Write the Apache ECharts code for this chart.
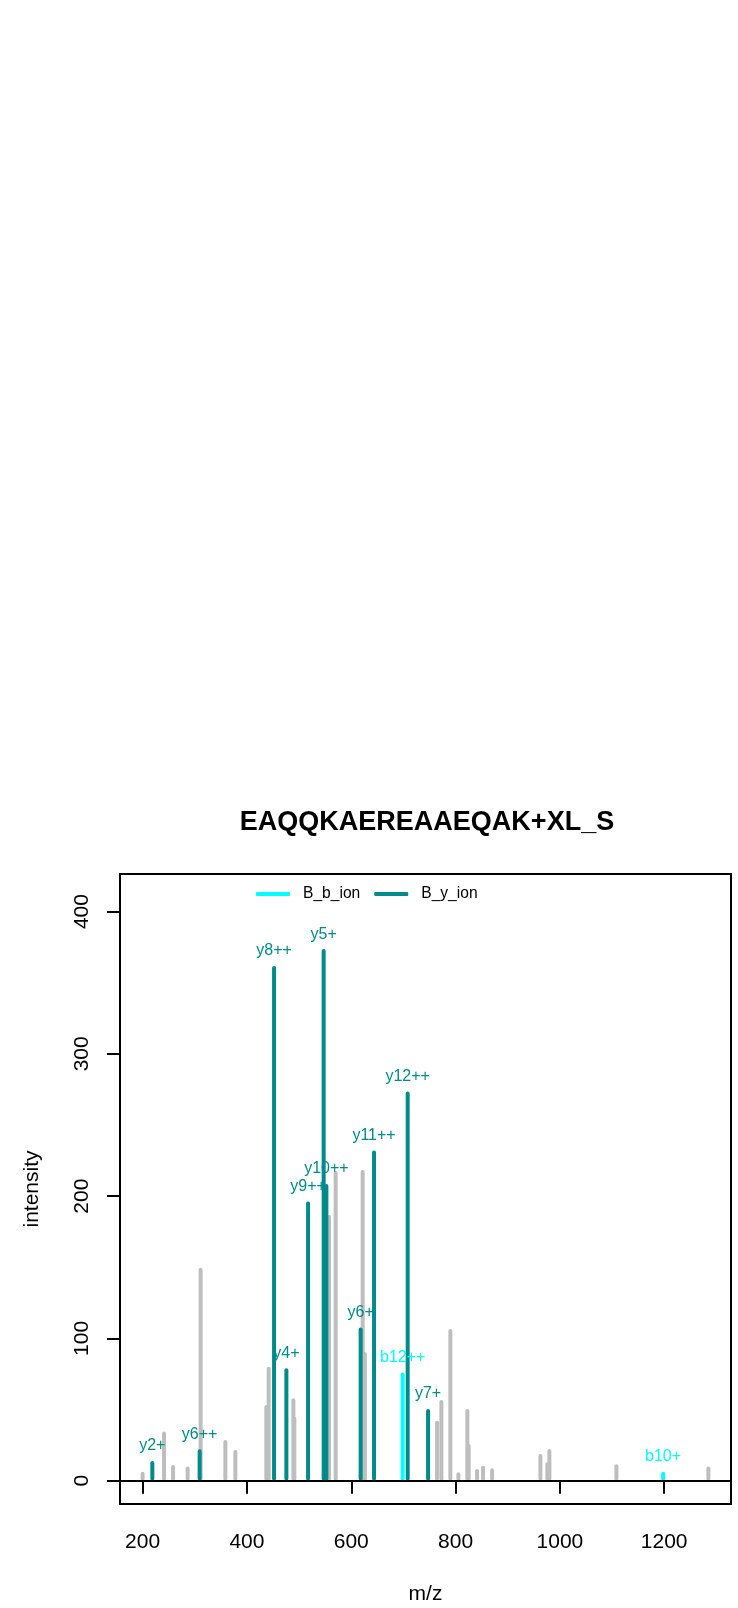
<!DOCTYPE html>
<html>
<head>
<meta charset="utf-8">
<script src="https://cdn.jsdelivr.net/npm/echarts@6.0.0/dist/echarts.min.js"></script>
<style>
  html, body { margin: 0; padding: 0; background: #fff; }
  #chart { width: 738px; height: 1608px; }
</style>
</head>
<body>
<div id="chart"></div>
<script>
// 未匹配的峰 (灰色)
var grayMz  = [200, 241, 258.3, 286.3, 311.2, 358.6, 377.8, 437.2, 441.6, 489, 490.9, 557.4, 570.1, 621.9, 626.1,
               764.5, 772.8, 790, 805.4, 822.6, 825.1, 841.2, 852.7, 870, 962.6, 976, 979.9, 1108.4, 1284.7];
var grayInt = [6.3, 34.5, 11, 9.9, 149.7, 28.6, 21.6, 53.2, 80, 57.9, 45, 186.8, 217.7, 218.4, 90.5,
               42.2, 56.7, 106.6, 5.9, 50.4, 26, 8.2, 10.5, 8.7, 18.8, 13, 22.3, 11.5, 10];

// b 离子
var bMz  = [698.6, 1197.9];
var bInt = [76, 6.3];
var bLab = ['b12++', 'b10+'];

// y 离子
var yMz  = [218.6, 309.3, 452, 475.6, 517.2, 547.1, 552.3, 618, 643.7, 708.2, 747.3];
var yInt = [13.8, 22, 361.8, 79, 196.2, 373.6, 208.6, 107.6, 232, 273.5, 50.4];
var yLab = ['y2+', 'y6++', 'y8++', 'y4+', 'y9++', 'y5+', 'y10++', 'y6+', 'y11++', 'y12++', 'y7+'];

var xTicks = [200, 400, 600, 800, 1000, 1200];
var yTicks = [0, 100, 200, 300, 400];

function toData(mz, val, lab) {
    return mz.map(function (m, i) {
        var item = { value: [m, val[i]] };
        if (lab) item.name = lab[i];
        return item;
    });
}

var dom = document.getElementById('chart');
var myChart = echarts.init(dom);

var barStyle = {
    type: 'bar',
    barWidth: 4,
    barGap: '-100%',
    animation: false
};

myChart.setOption({
    title: {
        text: 'EAQQKAEREAAEQAK+XL_S',
        left: 427,
        top: 809,
        padding: 0,
        textAlign: 'center',
        textStyle: {
            fontFamily: 'Liberation Sans',
            fontWeight: 'bold',
            fontSize: 27,
            color: '#000'
        }
    },
    legend: {
        data: ['B_b_ion', 'B_y_ion'],
        left: 256,
        top: 886,
        padding: 0,
        icon: 'roundRect',
        itemWidth: 34,
        itemHeight: 4,
        itemGap: 14,
        textStyle: {
            fontFamily: 'Liberation Sans',
            fontSize: 15.6,
            color: '#000',
            padding: [0, 0, 0, 8]
        }
    },
    grid: {
        left: 120,
        right: 7,
        top: 874,
        bottom: 104,
        show: true,
        borderColor: '#000',
        borderWidth: 2,
        containLabel: false
    },
    xAxis: {
        type: 'value',
        min: 156.6,
        max: 1328.1,
        name: 'm/z',
        nameLocation: 'middle',
        nameGap: 80,
        nameTextStyle: { fontFamily: 'Liberation Sans', fontSize: 21, color: '#000' },
        axisLine: { show: true, lineStyle: { color: '#000', width: 2 } },
        axisTick: { show: true, length: 13, customValues: xTicks, lineStyle: { color: '#000', width: 2 } },
        axisLabel: {
            customValues: xTicks,
            margin: 28,
            fontFamily: 'Liberation Sans',
            fontSize: 21,
            color: '#000',
            formatter: function (v) { return String(v); }
        },
        splitLine: { show: false }
    },
    yAxis: {
        type: 'value',
        min: -16.4,
        max: 426.4,
        name: 'intensity',
        nameLocation: 'middle',
        nameGap: 77,
        nameTextStyle: { fontFamily: 'Liberation Sans', fontSize: 21, color: '#000' },
        axisLine: { show: true, lineStyle: { color: '#000', width: 2 } },
        axisTick: { show: true, length: 13, customValues: yTicks, lineStyle: { color: '#000', width: 2 } },
        axisLabel: {
            customValues: yTicks,
            rotate: 90,
            margin: 27,
            fontFamily: 'Liberation Sans',
            fontSize: 21,
            color: '#000',
            formatter: function (v) { return String(v); }
        },
        splitLine: { show: false }
    },
    series: [
        Object.assign({}, barStyle, {
            name: 'peaks',
            itemStyle: { color: '#BEBEBE', borderRadius: 2 },
            data: toData(grayMz, grayInt),
            markLine: {
                silent: true,
                symbol: 'none',
                label: { show: false },
                lineStyle: { color: '#000', width: 2, type: 'solid' },
                data: [{ yAxis: 0 }]
            }
        }),
        Object.assign({}, barStyle, {
            name: 'B_b_ion',
            itemStyle: { color: '#00FFFF', borderRadius: 2 },
            label: {
                show: true,
                position: 'top',
                distance: 7,
                formatter: '{b}',
                fontFamily: 'Liberation Sans',
                fontSize: 16,
                color: '#00FFFF'
            },
            data: toData(bMz, bInt, bLab)
        }),
        Object.assign({}, barStyle, {
            name: 'B_y_ion',
            itemStyle: { color: '#008B8B', borderRadius: 2 },
            label: {
                show: true,
                position: 'top',
                distance: 7,
                formatter: '{b}',
                fontFamily: 'Liberation Sans',
                fontSize: 16,
                color: '#008B8B'
            },
            data: toData(yMz, yInt, yLab)
        })
    ]
});

window.addEventListener('resize', function () {
    myChart.resize();
});
</script>
</body>
</html>
